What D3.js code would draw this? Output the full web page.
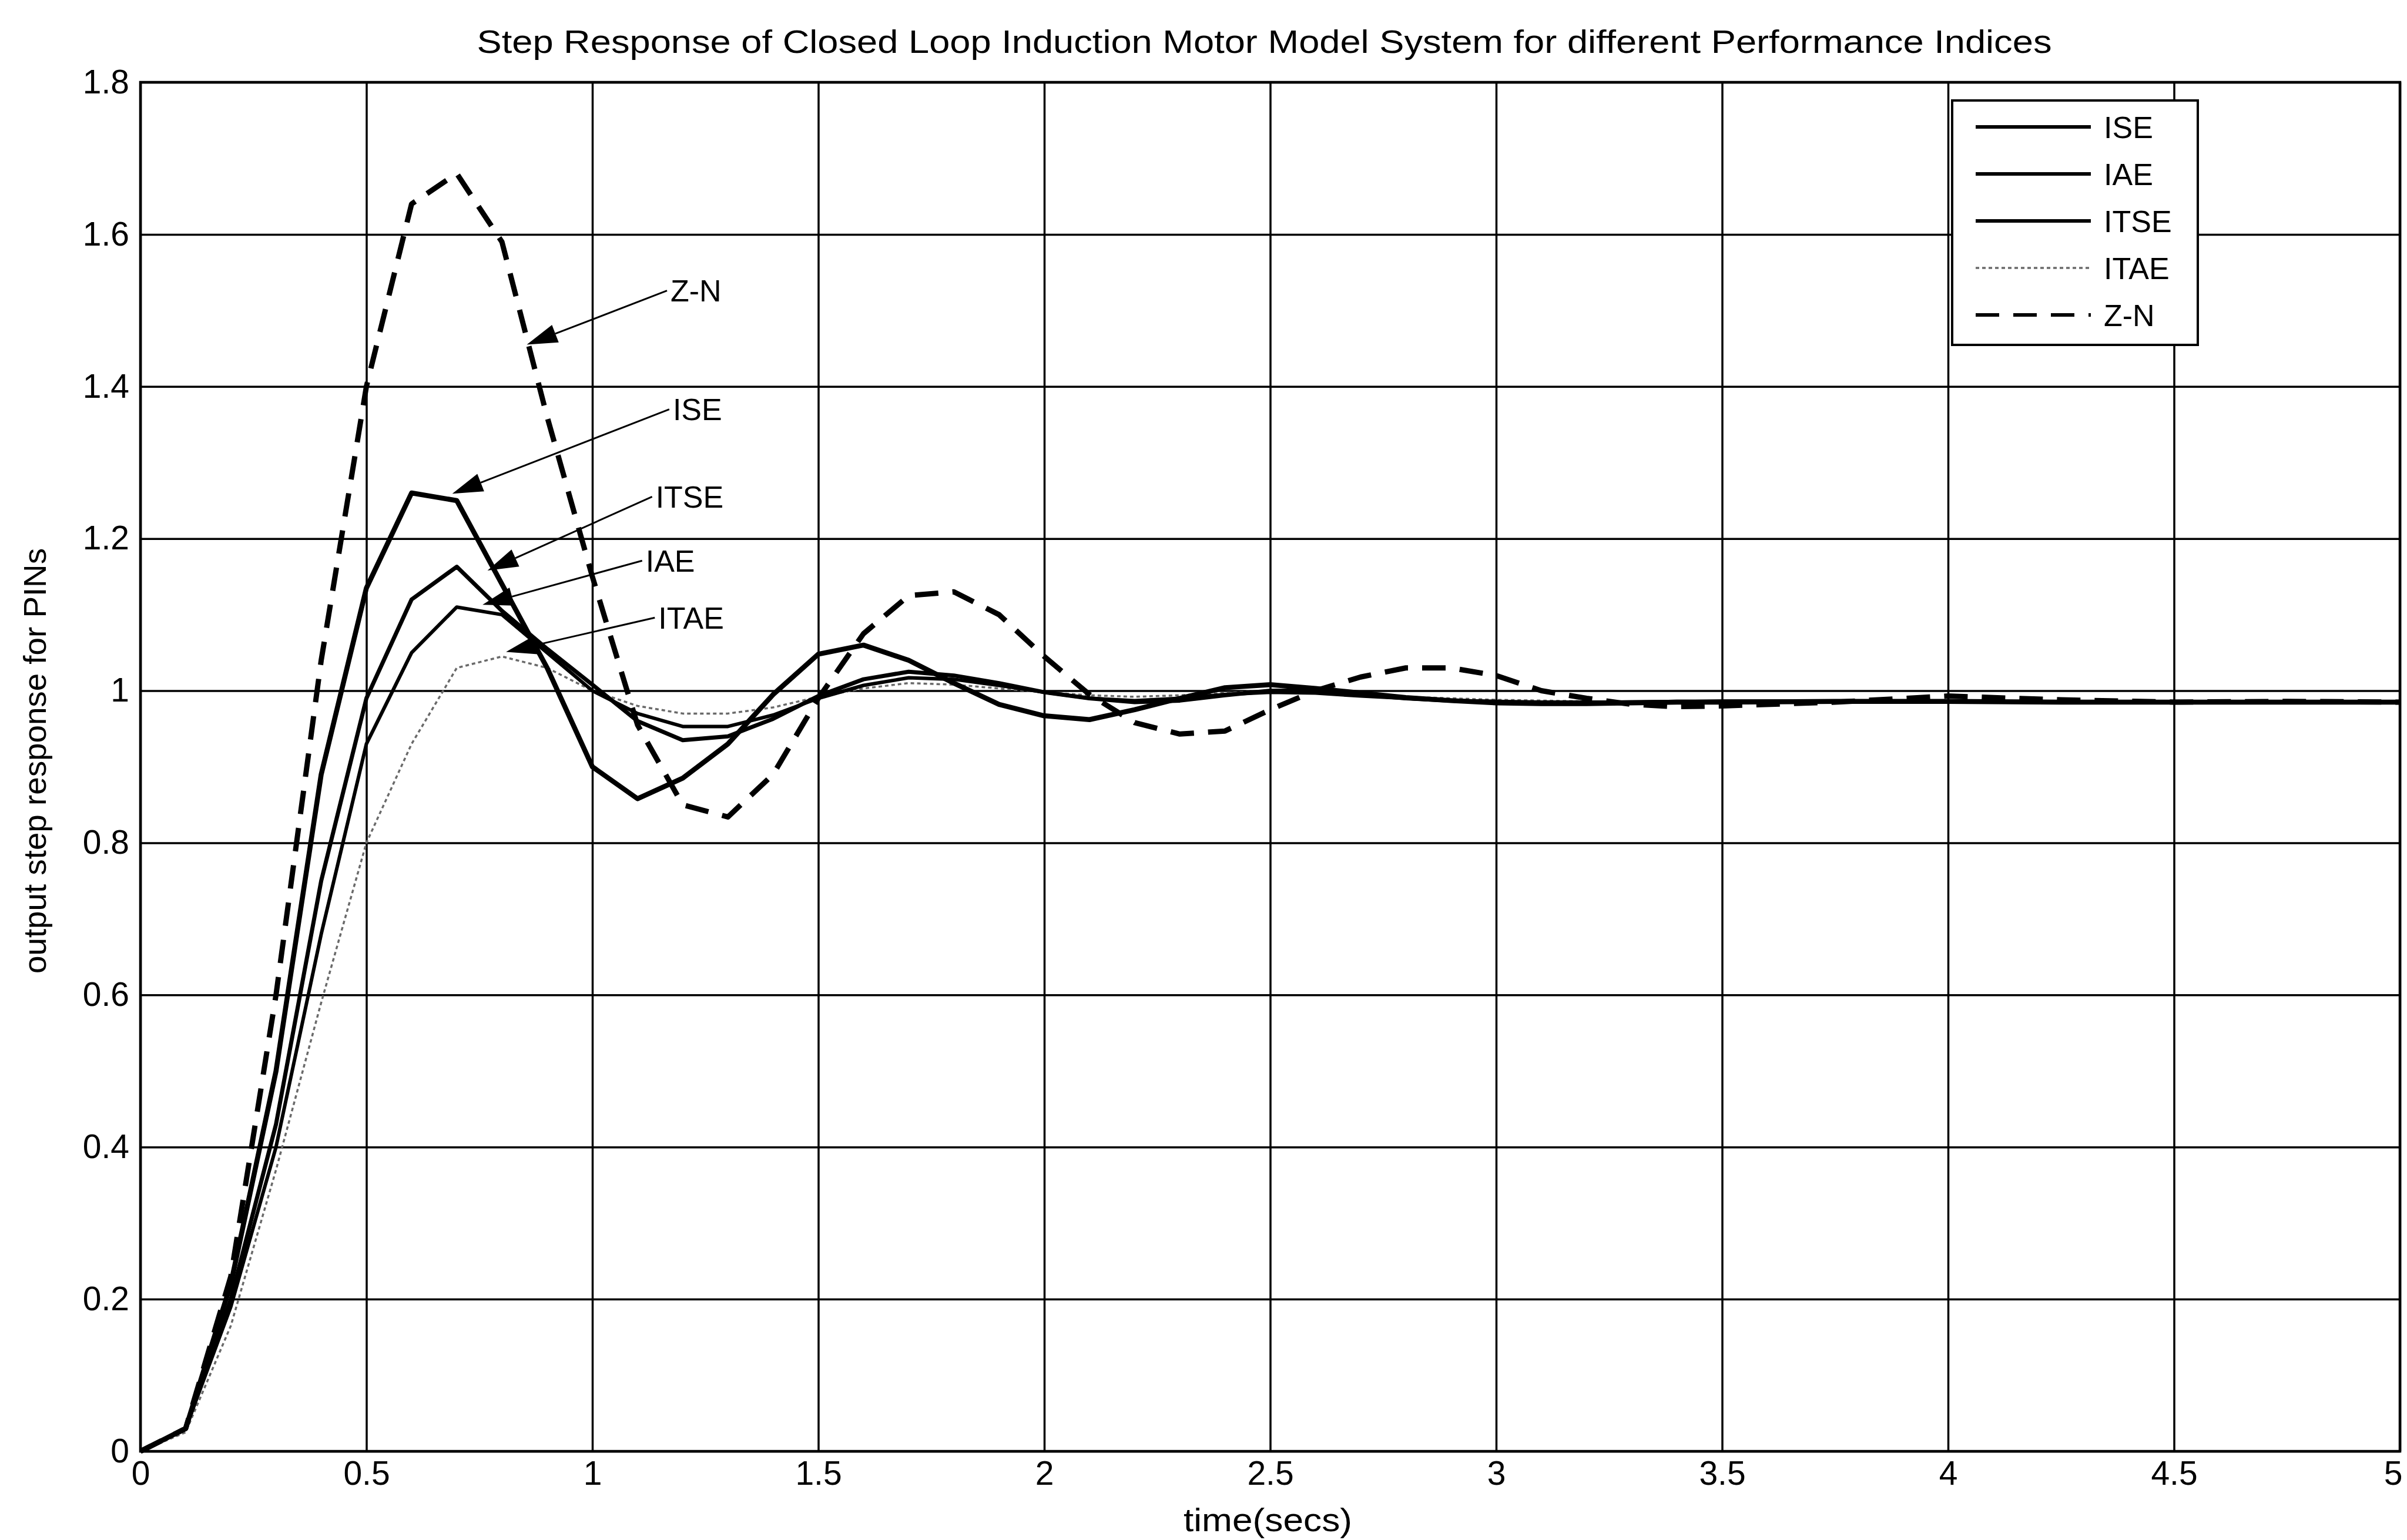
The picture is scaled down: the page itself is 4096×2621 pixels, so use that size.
<!DOCTYPE html>
<html>
<head>
<meta charset="utf-8">
<script src="https://cdn.jsdelivr.net/npm/d3@7"></script>
<style>
  body { margin: 0; background: #fff; }
  #chart { width: 4096px; height: 2621px; }
  text { font-family: "Liberation Sans", Arial, Helvetica, sans-serif; fill: #000; }
</style>
</head>
<body>
<div id="chart"></div>
<script>
// sample times (secs)
const time = [0, 0.1, 0.2, 0.3, 0.4, 0.5, 0.6, 0.7, 0.8, 0.9, 1.0,
    1.1, 1.2, 1.3, 1.4, 1.5, 1.6, 1.7, 1.8, 1.9, 2.0,
    2.1, 2.2, 2.3, 2.4, 2.5, 2.6, 2.7, 2.8, 2.9, 3.0,
    3.1, 3.2, 3.3, 3.4, 3.5, 3.75, 4.0, 4.25, 4.5, 4.75, 5.0];

// step responses
const ise = [0, 0.03, 0.22, 0.50, 0.89, 1.135, 1.26, 1.25, 1.14, 1.03, 0.90,
    0.858, 0.885, 0.93, 0.995, 1.048, 1.06, 1.04, 1.01, 0.982, 0.967,
    0.962, 0.975, 0.99, 1.004, 1.008, 1.003, 0.997, 0.991, 0.987, 0.984,
    0.983, 0.983, 0.984, 0.985, 0.985, 0.986, 0.986, 0.985, 0.985, 0.985, 0.985];
const iae = [0, 0.03, 0.19, 0.40, 0.68, 0.93, 1.05, 1.11, 1.10, 1.05, 1.0,
    0.97, 0.953, 0.953, 0.968, 0.99, 1.007, 1.017, 1.015, 1.007, 0.998,
    0.99, 0.987, 0.99, 0.995, 0.998, 0.997, 0.993, 0.99, 0.987, 0.986,
    0.985, 0.985, 0.985, 0.986, 0.986, 0.986, 0.986, 0.985, 0.985, 0.985, 0.985];
const itse = [0, 0.03, 0.20, 0.43, 0.75, 0.99, 1.12, 1.163, 1.105, 1.055, 1.008,
    0.96, 0.935, 0.94, 0.963, 0.993, 1.015, 1.025, 1.02, 1.01, 0.998,
    0.99, 0.985, 0.987, 0.994, 1.0, 1.0, 0.995, 0.99, 0.987, 0.985,
    0.984, 0.984, 0.985, 0.985, 0.986, 0.986, 0.986, 0.985, 0.985, 0.985, 0.985];
const itae = [0, 0.025, 0.165, 0.37, 0.59, 0.80, 0.93, 1.03, 1.045, 1.03, 1.0,
    0.98, 0.97, 0.97, 0.978, 0.992, 1.003, 1.01, 1.008, 1.003, 0.998,
    0.994, 0.992, 0.994, 0.997, 1.0, 0.998, 0.995, 0.992, 0.99, 0.988,
    0.987, 0.986, 0.986, 0.986, 0.986, 0.986, 0.986, 0.986, 0.986, 0.986, 0.986];
const zn = [0, 0.03, 0.23, 0.60, 1.04, 1.40, 1.64, 1.68, 1.59, 1.36, 1.15,
    0.955, 0.85, 0.834, 0.89, 0.99, 1.075, 1.125, 1.13, 1.10, 1.045,
    0.995, 0.958, 0.943, 0.947, 0.975, 1.0, 1.018, 1.03, 1.03, 1.02,
    1.0, 0.99, 0.982, 0.979, 0.98, 0.985, 0.993, 0.988, 0.985, 0.986, 0.985];

const seriesNames = ["ISE", "IAE", "ITSE", "ITAE", "Z-N"];
const xTicks = [0, 0.5, 1, 1.5, 2, 2.5, 3, 3.5, 4, 4.5, 5];
const yTicks = [0, 0.2, 0.4, 0.6, 0.8, 1, 1.2, 1.4, 1.6, 1.8];

const W = 4096, H = 2621;
const margin = { top: 140, right: 12, bottom: 151, left: 239 },
    width = W - margin.left - margin.right,
    height = H - margin.top - margin.bottom;
const fontFamily = '"Liberation Sans", Arial, Helvetica, sans-serif';

const svg = d3.select("#chart")
    .append("svg")
    .attr("width", W)
    .attr("height", H);

svg.append("rect").attr("width", W).attr("height", H).attr("fill", "#fff");

const g = svg.append("g")
    .attr("transform", `translate(${margin.left},${margin.top})`);

const x = d3.scaleLinear().domain([0, 5]).range([0, width]);
const y = d3.scaleLinear().domain([0, 1.8]).range([height, 0]);

// grid lines
g.append("g")
    .attr("transform", `translate(0,${height})`)
    .call(d3.axisBottom(x).tickValues(xTicks).tickSize(-height).tickFormat(""))
    .call(a => a.select(".domain").remove())
    .selectAll("line").attr("stroke", "#000").attr("stroke-width", 3.5);

g.append("g")
    .call(d3.axisLeft(y).tickValues(yTicks).tickSize(-width).tickFormat(""))
    .call(a => a.select(".domain").remove())
    .selectAll("line").attr("stroke", "#000").attr("stroke-width", 3.5);

// tick labels
const xAxis = g.append("g")
    .attr("transform", `translate(0,${height})`)
    .call(d3.axisBottom(x).tickValues(xTicks).tickSize(0).tickPadding(17).tickFormat(d => String(d)))
    .attr("font-size", 57).attr("font-family", fontFamily)
    .call(a => a.select(".domain").remove());

// last label sits against the right edge of the window
xAxis.selectAll(".tick text")
    .filter(d => d === 5)
    .attr("text-anchor", "end")
    .attr("dx", 4);

g.append("g")
    .call(d3.axisLeft(y).tickValues(yTicks).tickSize(0).tickPadding(19).tickFormat(d => String(d)))
    .attr("font-size", 57).attr("font-family", fontFamily)
    .call(a => a.select(".domain").remove());

// series lines
const series = [
    { name: "ITAE", values: itae, color: "#6a6a6a", width: 3.5, dash: "6,5" },
    { name: "IAE", values: iae, color: "#000", width: 6, dash: null },
    { name: "ITSE", values: itse, color: "#000", width: 7, dash: null },
    { name: "ISE", values: ise, color: "#000", width: 8.5, dash: null },
    { name: "Z-N", values: zn, color: "#000", width: 9, dash: "40,24" }
];

const line = d3.line()
    .x((d, i) => x(time[i]))
    .y(d => y(d));

g.selectAll(".series")
    .data(series)
    .enter().append("path")
    .attr("class", "series")
    .attr("fill", "none")
    .attr("stroke", d => d.color)
    .attr("stroke-width", d => d.width)
    .attr("stroke-dasharray", d => d.dash)
    .attr("stroke-linejoin", "round")
    .attr("d", d => line(d.values));

// axes box
g.append("rect")
    .attr("width", width)
    .attr("height", height)
    .attr("fill", "none")
    .attr("stroke", "#000")
    .attr("stroke-width", 4.5);

// callouts with arrows (data units)
const callouts = [
    { label: "Z-N", tip: [0.855, 1.455], at: [1.173, 1.526] },
    { label: "ISE", tip: [0.69, 1.259], at: [1.178, 1.370] },
    { label: "ITSE", tip: [0.768, 1.158], at: [1.14, 1.255] },
    { label: "IAE", tip: [0.757, 1.113], at: [1.118, 1.171] },
    { label: "ITAE", tip: [0.809, 1.051], at: [1.146, 1.096] }
];

callouts.forEach(c => {
    const tx = x(c.tip[0]), ty = y(c.tip[1]);
    const sx = x(c.at[0]) - 6, sy = y(c.at[1]);
    const ang = Math.atan2(sy - ty, sx - tx);
    const len = 52, half = 16;
    const bx = tx + len * Math.cos(ang), by = ty + len * Math.sin(ang);

    g.append("line")
        .attr("x1", bx).attr("y1", by)
        .attr("x2", sx).attr("y2", sy)
        .attr("stroke", "#000").attr("stroke-width", 3);

    g.append("path")
        .attr("d", `M${tx},${ty}L${bx - half * Math.sin(ang)},${by + half * Math.cos(ang)}` +
            `L${bx + half * Math.sin(ang)},${by - half * Math.cos(ang)}Z`)
        .attr("fill", "#000");

    g.append("text")
        .attr("x", x(c.at[0]))
        .attr("y", y(c.at[1]))
        .attr("dy", "0.36em")
        .style("font-size", "52px")
        .text(c.label);
});

// legend
const legendStyle = { "ISE": series[3], "IAE": series[1], "ITSE": series[2], "ITAE": series[0], "Z-N": series[4] };
const legend = svg.append("g").attr("transform", "translate(3322,171)");
legend.append("rect")
    .attr("width", 418).attr("height", 416)
    .attr("fill", "#fff").attr("stroke", "#000").attr("stroke-width", 4);

seriesNames.forEach((name, i) => {
    const s = legendStyle[name];
    const ly = 45 + i * 80;
    legend.append("line")
        .attr("x1", 40).attr("x2", 236)
        .attr("y1", ly).attr("y2", ly)
        .attr("stroke", s.color)
        .attr("stroke-width", Math.min(s.width, 6))
        .attr("stroke-dasharray", s.dash);
    legend.append("text")
        .attr("x", 258).attr("y", ly)
        .attr("dy", "0.36em")
        .style("font-size", "52px")
        .text(name);
});

// title
svg.append("text")
    .attr("x", margin.left + width / 2 - 10)
    .attr("y", 90)
    .attr("text-anchor", "middle")
    .attr("textLength", 2680)
    .attr("lengthAdjust", "spacingAndGlyphs")
    .style("font-size", "55px")
    .text("Step Response of Closed Loop Induction Motor Model System for different Performance Indices");

// x label
svg.append("text")
    .attr("x", margin.left + width / 2 - 4)
    .attr("y", 2606)
    .attr("text-anchor", "middle")
    .attr("textLength", 287)
    .attr("lengthAdjust", "spacingAndGlyphs")
    .style("font-size", "56px")
    .text("time(secs)");

// y label
svg.append("text")
    .attr("transform", `translate(78,${margin.top + height / 2 - 10}) rotate(-90)`)
    .attr("text-anchor", "middle")
    .attr("textLength", 724)
    .attr("lengthAdjust", "spacingAndGlyphs")
    .style("font-size", "54px")
    .text("output step response for PINs");
</script>
</body>
</html>
